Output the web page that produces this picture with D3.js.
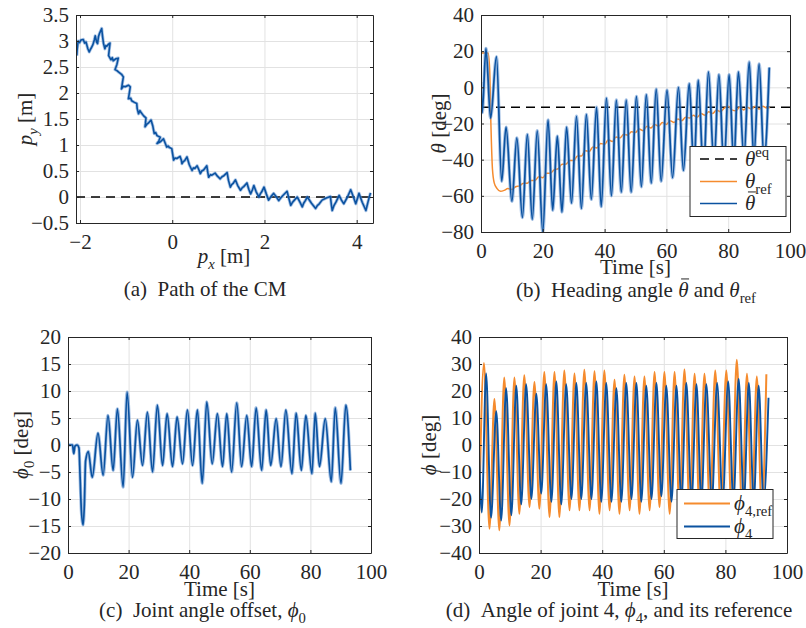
<!DOCTYPE html>
<html><head><meta charset="utf-8">
<script src="https://cdn.jsdelivr.net/npm/d3@7"></script>
<style>
body{margin:0;background:#fff}
svg{display:block}
text{font-family:"Liberation Serif","Times New Roman",serif;fill:#262626;white-space:pre}
</style>
</head><body><svg id="c" width="806" height="628"></svg>
<script>
// ---------------- DATA ----------------
// (a) path of the CM: [p_x, p_y]
const cmPath = [[-2.07,2.72],[-2.06,2.85],[-2.04,3.0],[-2.01,2.97],[-1.98,3.02],[-1.93,3.03],[-1.90,2.96],[-1.87,2.98],[-1.83,2.85],[-1.80,2.79],[-1.78,2.83],[-1.76,2.86],[-1.72,2.93],[-1.69,3.02],[-1.67,3.10],[-1.64,2.98],[-1.62,2.95],[-1.60,3.08],[-1.58,3.14],[-1.55,3.20],[-1.53,3.24],[-1.51,3.08],[-1.49,2.95],[-1.46,2.85],[-1.44,2.91],[-1.42,2.90],[-1.38,2.94],[-1.35,2.96],[-1.37,2.80],[-1.38,2.72],[-1.33,2.64],[-1.30,2.68],[-1.28,2.62],[-1.22,2.66],[-1.17,2.67],[-1.20,2.55],[-1.24,2.45],[-1.20,2.43],[-1.16,2.40],[-1.10,2.36],[-1.06,2.31],[-1.08,2.20],[-1.10,2.08],[-1.06,2.13],[-1.02,2.12],[-0.95,2.15],[-0.91,2.12],[-0.93,2.00],[-0.95,1.89],[-0.90,1.90],[-0.88,1.85],[-0.82,1.82],[-0.77,1.80],[-0.76,1.70],[-0.73,1.60],[-0.70,1.66],[-0.68,1.63],[-0.62,1.56],[-0.57,1.52],[-0.58,1.42],[-0.59,1.35],[-0.55,1.40],[-0.52,1.42],[-0.46,1.48],[-0.42,1.36],[-0.39,1.22],[-0.36,1.24],[-0.33,1.18],[-0.26,1.15],[-0.29,1.08],[-0.33,1.03],[-0.26,1.06],[-0.19,1.12],[-0.15,1.03],[-0.12,0.96],[-0.09,0.98],[-0.06,0.95],[-0.01,0.93],[0.01,0.82],[0.03,0.71],[0.06,0.75],[0.10,0.74],[0.17,0.78],[0.20,0.70],[0.21,0.64],[0.24,0.68],[0.27,0.70],[0.32,0.77],[0.37,0.62],[0.43,0.51],[0.46,0.56],[0.49,0.55],[0.54,0.60],[0.58,0.52],[0.61,0.45],[0.64,0.50],[0.68,0.52],[0.75,0.60],[0.77,0.48],[0.79,0.38],[0.83,0.43],[0.86,0.42],[0.93,0.46],[0.98,0.40],[1.04,0.35],[1.08,0.39],[1.12,0.41],[1.19,0.47],[1.22,0.32],[1.26,0.19],[1.29,0.24],[1.32,0.26],[1.37,0.33],[1.42,0.22],[1.48,0.13],[1.52,0.18],[1.55,0.20],[1.62,0.27],[1.66,0.15],[1.70,0.06],[1.74,0.14],[1.77,0.22],[1.82,0.10],[1.88,0.00],[1.91,0.06],[1.94,0.10],[1.99,0.19],[2.04,0.06],[2.09,-0.06],[2.15,0.02],[2.20,0.07],[2.26,0.00],[2.31,-0.07],[2.36,-0.01],[2.40,0.03],[2.49,0.11],[2.53,-0.03],[2.57,-0.16],[2.61,-0.10],[2.64,-0.07],[2.71,0.00],[2.77,-0.10],[2.82,-0.19],[2.85,-0.12],[2.88,-0.08],[2.93,0.00],[3.02,-0.12],[3.11,-0.22],[3.15,-0.16],[3.18,-0.14],[3.25,-0.06],[3.34,-0.02],[3.43,0.01],[3.45,-0.14],[3.47,-0.26],[3.51,-0.16],[3.55,-0.10],[3.62,0.03],[3.67,-0.06],[3.72,-0.13],[3.80,0.00],[3.87,0.14],[3.93,0.00],[3.98,-0.13],[4.02,-0.02],[4.05,0.07],[4.12,-0.10],[4.20,-0.26],[4.25,-0.08],[4.30,0.08]];
const cmRefLine = 0;

// (b) heading angle [time, deg]
const thetaEq = -11;
const thetaRef = [[0,19],[2.3,19],[2.8,10],[3.2,-20],[3.7,-45],[4.3,-53],[5.2,-56],[6.3,-57.5],[7.5,-57],[8.7,-56],[10,-56.5],[11.2,-55],[12.5,-54.5],[13.7,-53],[15,-53],[16.2,-51.5],[17.5,-51.5],[18.7,-49.5],[20,-50],[21.2,-47.5],[22.5,-47.5],[23.7,-45.5],[25,-45],[26.2,-42.5],[27.5,-42.5],[28.7,-40.5],[30,-40.5],[31.2,-38],[32.5,-38],[33.7,-35],[35,-35.5],[36.2,-33],[37.5,-33.5],[38.7,-31],[40,-31.5],[41.2,-29],[42.5,-30],[43.7,-27.5],[45,-28],[46.2,-26],[47.5,-26.5],[48.7,-24.5],[50,-25],[51.2,-23],[52.5,-24],[53.7,-21.5],[55,-22.5],[56.2,-20.5],[57.5,-21.5],[58.7,-19.5],[60,-20.5],[61.2,-18.5],[62.5,-19.5],[63.7,-17.5],[65,-18.5],[66.2,-16.5],[67.5,-17],[68.7,-15.5],[70,-16.5],[71.2,-14.5],[72.5,-15.5],[73.7,-13.5],[75,-14.5],[76.2,-12.5],[77.5,-13.5],[78.7,-11.5],[80,-10.5],[81.2,-12.5],[82.5,-13],[83.7,-11],[85,-12.5],[86.2,-11],[87.5,-12],[88.7,-10.5],[90,-12],[91.2,-10.5],[92.5,-11.5],[93.5,-11]];
const thetaBar = [[0,3],[0.4,-14],[1.6,21.5],[3.1,-17],[5.0,17],[6.7,-52],[8.1,-22],[10.0,-63],[11.6,-28],[13.4,-72],[15.0,-26],[16.6,-73],[18.2,-24],[20.0,-80],[21.7,-18],[23.2,-68],[24.7,-27],[26.2,-69],[27.7,-22],[29.3,-64],[30.9,-16],[32.5,-67],[34.1,-15],[35.7,-62],[37.4,-11],[38.9,-66],[40.6,-6],[42.2,-60],[43.8,-7],[45.4,-58],[47.0,-7],[48.6,-58],[50.3,-5],[51.9,-55],[53.5,-4],[55.1,-53],[56.7,-1],[58.3,-52],[60.2,-1.5],[62.0,-50],[63.9,0],[65.5,-46],[67.4,2],[68.9,-45],[70.3,4],[72.0,-47],[73.6,8.5],[75.4,-42],[77.0,7],[78.6,-44],[80.3,7],[81.8,-42],[83.3,8.5],[85.1,-39],[86.8,14],[88.3,-39],[90.0,13],[91.6,-40],[93.3,11]];

// (c) joint angle offset [time, deg]
const phi0 = [[0,0],[1.5,0],[1.9,-1.6],[2.3,-0.2],[3.0,0],[3.6,-0.5],[4.0,-6],[4.4,-12],[5.0,-14.8],[5.4,-11],[5.8,-3],[6.7,-1.2],[8.0,-6],[9.9,2.2],[11.6,-5.6],[13.2,5.5],[14.9,-4.7],[16.3,6.7],[18.2,-7.8],[19.5,9.8],[21.3,-6],[22.9,4.6],[24.6,-3.8],[26.2,6.1],[27.9,-5],[29.5,7.4],[31.2,-3.8],[32.7,5.8],[34.5,-4],[36.0,5.2],[37.8,-3.5],[39.4,6.5],[41.1,-3.8],[42.7,6.5],[44.3,-7.1],[45.8,8],[47.6,-3.5],[49.3,5.8],[51.0,-4],[52.4,5.8],[54.0,-5],[55.7,7.8],[57.3,-4],[59.0,5.5],[60.6,-4],[62.1,6.9],[63.9,-4.7],[65.4,6.5],[66.9,-3.8],[68.7,4.9],[70.3,-4],[71.9,6.5],[73.9,-5.3],[75.3,5.9],[77.0,-4.7],[78.5,5.5],[80.5,-5.3],[81.6,5.9],[83.0,-4],[84.9,4.9],[86.9,-6.8],[88.2,6.9],[90.1,-7.1],[91.7,7.4],[93.2,-4.7]];

// (d) joint 4 angle and reference [time, deg]
const phi4Ref = [[0,-29],[1.6,30.4],[3.4,-31],[5.0,17],[6.6,-31.6],[8.2,25],[9.9,-29.8],[11.5,25],[13.1,-25.5],[14.7,25.8],[16.4,-23],[18.0,23.3],[19.6,-23.6],[21.2,27],[22.9,-26.7],[24.5,27],[26.1,-26.7],[27.7,27.6],[29.4,-24.2],[31.0,26.5],[32.6,-24.2],[34.2,27.9],[35.9,-24.2],[37.5,27.3],[39.1,-25.5],[40.7,27.6],[42.4,-24.2],[44.0,24.2],[45.6,-25.5],[47.2,26],[48.9,-24.2],[50.5,25.4],[52.1,-25.5],[53.7,25.4],[55.4,-24.2],[57.0,27],[58.6,-23],[60.2,27],[61.9,-25.5],[63.5,27],[65.1,-25.5],[66.7,28],[68.4,-25],[70.0,26.4],[71.6,-25],[73.2,26.4],[75.0,-25],[76.7,27.6],[78.5,-25],[80.3,27.6],[82.0,-25],[83.7,31.6],[85.4,-25],[87.0,26.4],[88.6,-25],[90.2,25.4],[91.8,-25],[93.3,26.2]];
const phi4 = [[0,0],[0.9,-25],[2.3,26.5],[3.9,-27],[5.6,12.5],[7.2,-28],[8.8,21],[10.5,-26],[12.1,22],[13.7,-22],[15.3,22.5],[17.0,-20],[18.6,19],[20.2,-18],[21.8,22.5],[23.5,-21],[25.1,23.5],[26.7,-22],[28.3,22.5],[30.0,-20],[31.6,23],[33.2,-20],[34.8,23],[36.5,-20],[38.1,23.5],[39.7,-21],[41.3,23],[43.0,-21],[44.6,21],[46.2,-21],[47.8,23],[49.5,-20],[51.1,23],[52.7,-21],[54.3,22],[56.0,-20],[57.6,23],[59.2,-19],[60.8,22],[62.5,-21],[64.1,22],[65.7,-21],[67.3,23],[69.0,-21],[70.6,22.5],[72.2,-21],[73.8,22.5],[75.6,-21],[77.3,23],[79.1,-21],[80.9,23.5],[82.6,-21],[84.3,24.5],[86.0,-21],[87.6,23],[89.2,-21],[90.8,22],[92.4,-21],[94.0,17.5]];

// tick values
const ticksAx = [-2,0,2,4];
const ticksAy = [-0.5,0,0.5,1,1.5,2,2.5,3,3.5];
const timeTicks = [0,20,40,60,80,100];
const ticksBy = [-80,-60,-40,-20,0,20,40];
const ticksCy = [-20,-15,-10,-5,0,5,10,15,20];
const ticksDy = [-40,-30,-20,-10,0,10,20,30,40];

// ---------------- DRAWING ----------------
const BLUE = "#0b52a0", HALO = "#5d8fcf", ORANGE = "#f58b2e", AX = "#262626", GRID = "#e2e2e2";
const FONT = '"Liberation Serif","Times New Roman",serif';
const svg = d3.select("#c");
svg.append("rect").attr("width",806).attr("height",628).attr("fill","#fff");

const fmt = v => (v < 0 ? "\u2212" : "") + Math.abs(v);

function panel(id, box, xd, yd, xt, yt) {
  const x = d3.scaleLinear().domain(xd).range([box.l, box.r]);
  const y = d3.scaleLinear().domain(yd).range([box.b, box.t]);
  const g = svg.append("g");
  const w = box.r - box.l, h = box.b - box.t;
  g.append("g").attr("transform", `translate(0,${box.b})`)
    .call(d3.axisBottom(x).tickValues(xt).tickSize(-h).tickFormat(""))
    .call(s => { s.select(".domain").remove(); s.selectAll("line").attr("stroke", GRID); });
  g.append("g").attr("transform", `translate(${box.l},0)`)
    .call(d3.axisLeft(y).tickValues(yt).tickSize(-w).tickFormat(""))
    .call(s => { s.select(".domain").remove(); s.selectAll("line").attr("stroke", GRID); });
  svg.append("clipPath").attr("id", "clip" + id).append("rect")
    .attr("x", box.l).attr("y", box.t).attr("width", w).attr("height", h);
  const plot = g.append("g").attr("clip-path", `url(#clip${id})`);
  return {x, y, g, plot, box, xt, yt};
}

function finishAxes(p) {
  const {x, y, g, box, xt, yt} = p;
  const style = s => {
    s.attr("font-size", 21).attr("font-family", FONT);
    s.select(".domain").attr("stroke", AX);
    s.selectAll("line").attr("stroke", AX);
    s.selectAll("text").attr("fill", AX);
  };
  g.append("g").attr("transform", `translate(0,${box.b})`)
    .call(d3.axisBottom(x).tickValues(xt).tickSizeInner(-3).tickSizeOuter(0).tickPadding(11).tickFormat(fmt)).call(style);
  g.append("g").attr("transform", `translate(${box.l},0)`)
    .call(d3.axisLeft(y).tickValues(yt).tickSizeInner(-3).tickSizeOuter(0).tickPadding(7).tickFormat(fmt)).call(style);
  g.append("g").attr("transform", `translate(0,${box.t})`)
    .call(d3.axisTop(x).tickValues(xt).tickSizeInner(-3).tickSizeOuter(0).tickFormat("")).call(style);
  g.append("g").attr("transform", `translate(${box.r},0)`)
    .call(d3.axisRight(y).tickValues(yt).tickSizeInner(-3).tickSizeOuter(0).tickFormat("")).call(style);
}

// rich text: segs [{t, i(italic), sub, sup, bar}]
function rich(parent, x, y, segs, fs, anchor, rotate) {
  const g = parent.append("g").attr("transform", `translate(${x},${y})` + (rotate ? " rotate(-90)" : ""));
  const t = g.append("text").attr("x", 0).attr("y", 0).attr("font-size", fs)
    .attr("text-anchor", anchor || "middle").attr("font-family", FONT);
  let shift = 0, idx = 0; const bars = [];
  segs.forEach(s => {
    const ts = t.append("tspan").text(s.t);
    let target = 0;
    if (s.sub) { ts.attr("font-size", fs * 0.7); target = fs * 0.28; }
    if (s.sup) { ts.attr("font-size", fs * 0.7); target = -fs * 0.42; }
    if (target !== shift) { ts.attr("dy", target - shift); shift = target; }
    if (s.i) ts.attr("font-style", "italic");
    if (s.bar) bars.push(idx);
    idx += s.t.length;
  });
  bars.forEach(k => {
    const a = t.node().getStartPositionOfChar(k);
    g.append("line").attr("x1", a.x + fs * 0.14).attr("x2", a.x + fs * 0.52)
      .attr("y1", -fs * 0.86).attr("y2", -fs * 0.86).attr("stroke", AX).attr("stroke-width", 1);
  });
  return g;
}

function line(p, data, color, curve, width, dash, halo) {
  const gen = d3.line().x(d => p.x(d[0])).y(d => p.y(d[1])).curve(curve || d3.curveLinear);
  if (halo) {
    p.plot.append("path").datum(data).attr("d", gen).attr("fill", "none")
      .attr("stroke", halo).attr("stroke-opacity", 0.55).attr("stroke-width", width + 1.6).attr("stroke-linejoin", "round");
  }
  const path = p.plot.append("path").datum(data).attr("d", gen).attr("fill", "none")
    .attr("stroke", color).attr("stroke-width", width || 1.6).attr("stroke-linejoin", "round");
  if (dash) path.attr("stroke-dasharray", dash);
  return path;
}

// ---- (a)
const pA = panel("A", {l:76, r:373, t:15, b:223}, [-2.087, 4.354], [-0.5, 3.5], ticksAx, ticksAy);
line(pA, [[-2.087, cmRefLine], [4.354, cmRefLine]], "#000", null, 1.3, "9,6");
line(pA, cmPath, BLUE, null, 1.6, null, HALO);
finishAxes(pA);
rich(svg, 32, 119, [{t:"p", i:1}, {t:"y", i:1, sub:1}, {t:" [m]"}], 21, "middle", true);
rich(svg, 224, 263, [{t:"p", i:1}, {t:"x", i:1, sub:1}, {t:" [m]"}], 21);
rich(svg, 205, 296, [{t:"(a)\u2002Path of the CM"}], 21);

// ---- (b)
const pB = panel("B", {l:481, r:790, t:15, b:232}, [0, 100], [-80, 40], timeTicks, ticksBy);
line(pB, [[0, thetaEq], [100, thetaEq]], "#000", null, 1.3, "9,6");
line(pB, thetaRef, ORANGE, d3.curveMonotoneX, 1.5);
line(pB, thetaBar, BLUE, d3.curveMonotoneX, 1.7, null, HALO);
finishAxes(pB);
rich(svg, 446, 123.5, [{t:"θ", i:1}, {t:" [deg]"}], 21, "middle", true);
rich(svg, 635.5, 274, [{t:"Time [s]"}], 21);
rich(svg, 636, 297, [{t:"(b)\u2002Heading angle "}, {t:"θ", i:1, bar:1}, {t:" and "}, {t:"θ", i:1}, {t:"ref", sub:1}], 21);
// legend (b)
{
  const L = svg.append("g");
  L.append("rect").attr("x", 690).attr("y", 146.5).attr("width", 96).attr("height", 70)
    .attr("fill", "#fff").attr("stroke", AX).attr("stroke-width", 1);
  const rows = [
    {y:159, c:"#000", dash:"9,6", segs:[{t:"θ", i:1}, {t:"eq", sup:1}]},
    {y:181.5, c:ORANGE, segs:[{t:"θ", i:1}, {t:"ref", sub:1}]},
    {y:203.5, c:BLUE, segs:[{t:"θ", i:1, bar:1}]}
  ];
  rows.forEach(r => {
    const l = L.append("line").attr("x1", 700).attr("x2", 737).attr("y1", r.y).attr("y2", r.y)
      .attr("stroke", r.c).attr("stroke-width", r.dash ? 1.3 : 1.7);
    if (r.dash) l.attr("stroke-dasharray", r.dash);
    rich(L, 745, r.y + 6.5, r.segs, 21, "start");
  });
}

// ---- (c)
const pC = panel("C", {l:68, r:371, t:337, b:553}, [0, 100], [-20, 20], timeTicks, ticksCy);
line(pC, phi0, BLUE, d3.curveMonotoneX, 1.7, null, HALO);
finishAxes(pC);
rich(svg, 28, 445, [{t:"ϕ", i:1}, {t:"0", sub:1}, {t:" [deg]"}], 21, "middle", true);
rich(svg, 219.5, 596, [{t:"Time [s]"}], 21);
rich(svg, 202.5, 617, [{t:"(c)\u2002Joint angle offset, "}, {t:"ϕ", i:1}, {t:"0", sub:1}], 21);

// ---- (d)
const pD = panel("D", {l:479, r:787, t:337, b:553}, [0, 100], [-40, 40], timeTicks, ticksDy);
line(pD, phi4Ref, ORANGE, d3.curveMonotoneX, 2);
line(pD, phi4, BLUE, d3.curveMonotoneX, 1.9);
finishAxes(pD);
rich(svg, 436, 445, [{t:"ϕ", i:1}, {t:" [deg]"}], 21, "middle", true);
rich(svg, 633, 596, [{t:"Time [s]"}], 21);
rich(svg, 619, 617, [{t:"(d)\u2002Angle of joint 4, "}, {t:"ϕ", i:1}, {t:"4", sub:1}, {t:", and its reference"}], 21);
// legend (d)
{
  const L = svg.append("g");
  L.append("rect").attr("x", 677).attr("y", 489.5).attr("width", 96).attr("height", 49)
    .attr("fill", "#fff").attr("stroke", AX).attr("stroke-width", 1);
  const rows = [
    {y:503.5, c:ORANGE, segs:[{t:"ϕ", i:1}, {t:"4,ref", sub:1}]},
    {y:526.5, c:BLUE, segs:[{t:"ϕ", i:1}, {t:"4", sub:1}]}
  ];
  rows.forEach(r => {
    L.append("line").attr("x1", 684).attr("x2", 730).attr("y1", r.y).attr("y2", r.y)
      .attr("stroke", r.c).attr("stroke-width", 1.8);
    rich(L, 734, r.y + 6.5, r.segs, 21, "start");
  });
}
</script></body></html>
